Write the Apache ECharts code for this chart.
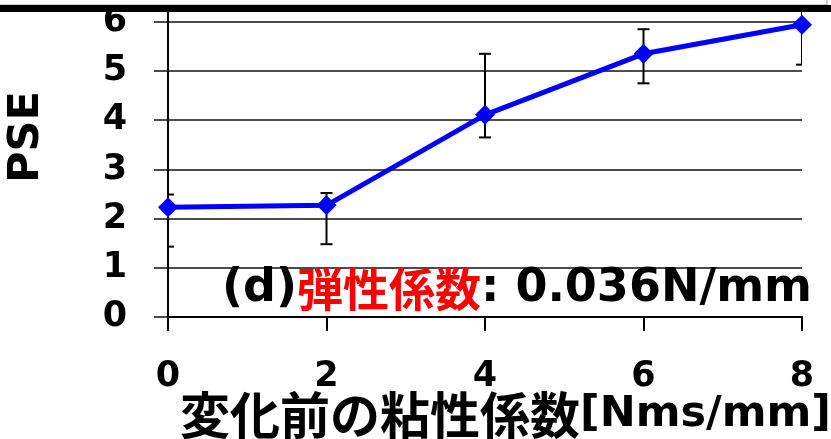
<!DOCTYPE html>
<html>
<head>
<meta charset="utf-8">
<style>
  html, body { margin: 0; padding: 0; background: #fff; }
  #chart1 { width: 831px; height: 439px; }
</style>
</head>
<body>
<div id="chart1"></div>
<script src="https://cdn.jsdelivr.net/npm/echarts@6/dist/echarts.min.js"></script>
<script>
  // 変化前の粘性係数 [Nms/mm]
  const viscosity = [0, 2, 4, 6, 8];
  // PSE の平均値
  const pse = [2.23, 2.27, 4.11, 5.35, 5.94];
  // エラーバー（下端・上端）
  const errLow = [1.43, 1.48, 3.65, 4.75, 5.13];
  const errHigh = [2.49, 2.52, 5.35, 5.85, 6.6];
  const yTicks = [0, 1, 2, 3, 4, 5, 6];

  const LATIN = '"DejaVu Sans", "Noto Sans CJK JP", sans-serif';
  const CJK = '"Noto Sans CJK JP", "DejaVu Sans", sans-serif';

  let myChart = echarts.init(document.getElementById('chart1'));

  let option = {
    animation: false,
    backgroundColor: '#fff',
    grid: { left: 168, right: 29, top: 11, bottom: 122 },
    xAxis: {
      type: 'value',
      min: 0,
      max: 8,
      interval: 2,
      axisLine: { lineStyle: { color: '#000', width: 2 } },
      axisTick: { inside: false, length: 14, lineStyle: { color: '#000', width: 2 } },
      axisLabel: {
        margin: 42,
        color: '#000',
        fontSize: 35,
        fontWeight: 'bold',
        fontFamily: LATIN
      },
      splitLine: { show: false }
    },
    yAxis: {
      type: 'value',
      min: 0,
      max: 6.22,
      interval: 1,
      axisLine: { show: true, lineStyle: { color: '#000', width: 2 } },
      axisTick: { show: true, length: 14, lineStyle: { color: '#111', width: 1.5 } },
      axisLabel: {
        margin: 41,
        color: '#000',
        fontSize: 35,
        fontWeight: 'bold',
        fontFamily: LATIN,
        formatter: function (v) {
          return yTicks.indexOf(v) >= 0 ? String(v) : '';
        }
      },
      splitLine: { show: true, lineStyle: { color: '#111', width: 1.5 } }
    },
    series: [
      {
        type: 'custom',
        z: 1,
        clip: true,
        data: viscosity.map(function (x, i) { return [x, errLow[i], errHigh[i]]; }),
        renderItem: function (params, api) {
          let lo = api.coord([api.value(0), api.value(1)]);
          let hi = api.coord([api.value(0), api.value(2)]);
          let w = 6;
          let st = { stroke: '#000', lineWidth: 2 };
          return {
            type: 'group',
            children: [
              { type: 'line', shape: { x1: lo[0], y1: lo[1], x2: hi[0], y2: hi[1] }, style: st },
              { type: 'line', shape: { x1: lo[0] - w, y1: lo[1], x2: lo[0] + w, y2: lo[1] }, style: st },
              { type: 'line', shape: { x1: hi[0] - w, y1: hi[1], x2: hi[0] + w, y2: hi[1] }, style: st }
            ]
          };
        }
      },
      {
        type: 'line',
        z: 5,
        data: viscosity.map(function (x, i) { return [x, pse[i]]; }),
        symbol: 'diamond',
        symbolSize: 20,
        lineStyle: { color: '#0000ff', width: 5 },
        itemStyle: { color: '#0000ff' }
      }
    ],
    graphic: [
      {
        type: 'text',
        x: 27,
        y: 137,
        rotation: Math.PI / 2,
        style: {
          text: 'PSE',
          fill: '#000',
          font: 'bold 43px ' + LATIN,
          align: 'center',
          verticalAlign: 'middle'
        }
      },
      {
        type: 'text',
        x: 222,
        y: 289,
        z: 20,
        style: {
          text: '{a|(d)}{r|弾性係数}{a|: 0.036N/mm}',
          align: 'left',
          verticalAlign: 'middle',
          rich: {
            a: { fontSize: 46, fontWeight: 'bold', fontFamily: LATIN, fill: '#000', color: '#000' },
            r: { fontSize: 46, fontWeight: 'bold', fontFamily: CJK, fill: '#ff0000', color: '#ff0000' }
          }
        }
      },
      {
        type: 'text',
        x: 180,
        y: 415,
        style: {
          text: '{c|変化前の粘性係数}{l|[Nms/mm]}',
          align: 'left',
          verticalAlign: 'middle',
          rich: {
            c: { fontSize: 50, fontWeight: 'bold', fontFamily: CJK, fill: '#000', color: '#000' },
            l: { fontSize: 43, fontWeight: 'bold', fontFamily: LATIN, fill: '#000', color: '#000' }
          }
        }
      },
      {
        type: 'rect',
        z: 100,
        shape: { x: -2, y: -2, width: 829, height: 7 },
        style: { fill: '#fff', stroke: '#999', lineWidth: 1 }
      },
      {
        type: 'rect',
        z: 101,
        shape: { x: 0, y: 5, width: 831, height: 7 },
        style: { fill: '#000' }
      }
    ]
  };

  myChart.setOption(option);
</script>
</html>
